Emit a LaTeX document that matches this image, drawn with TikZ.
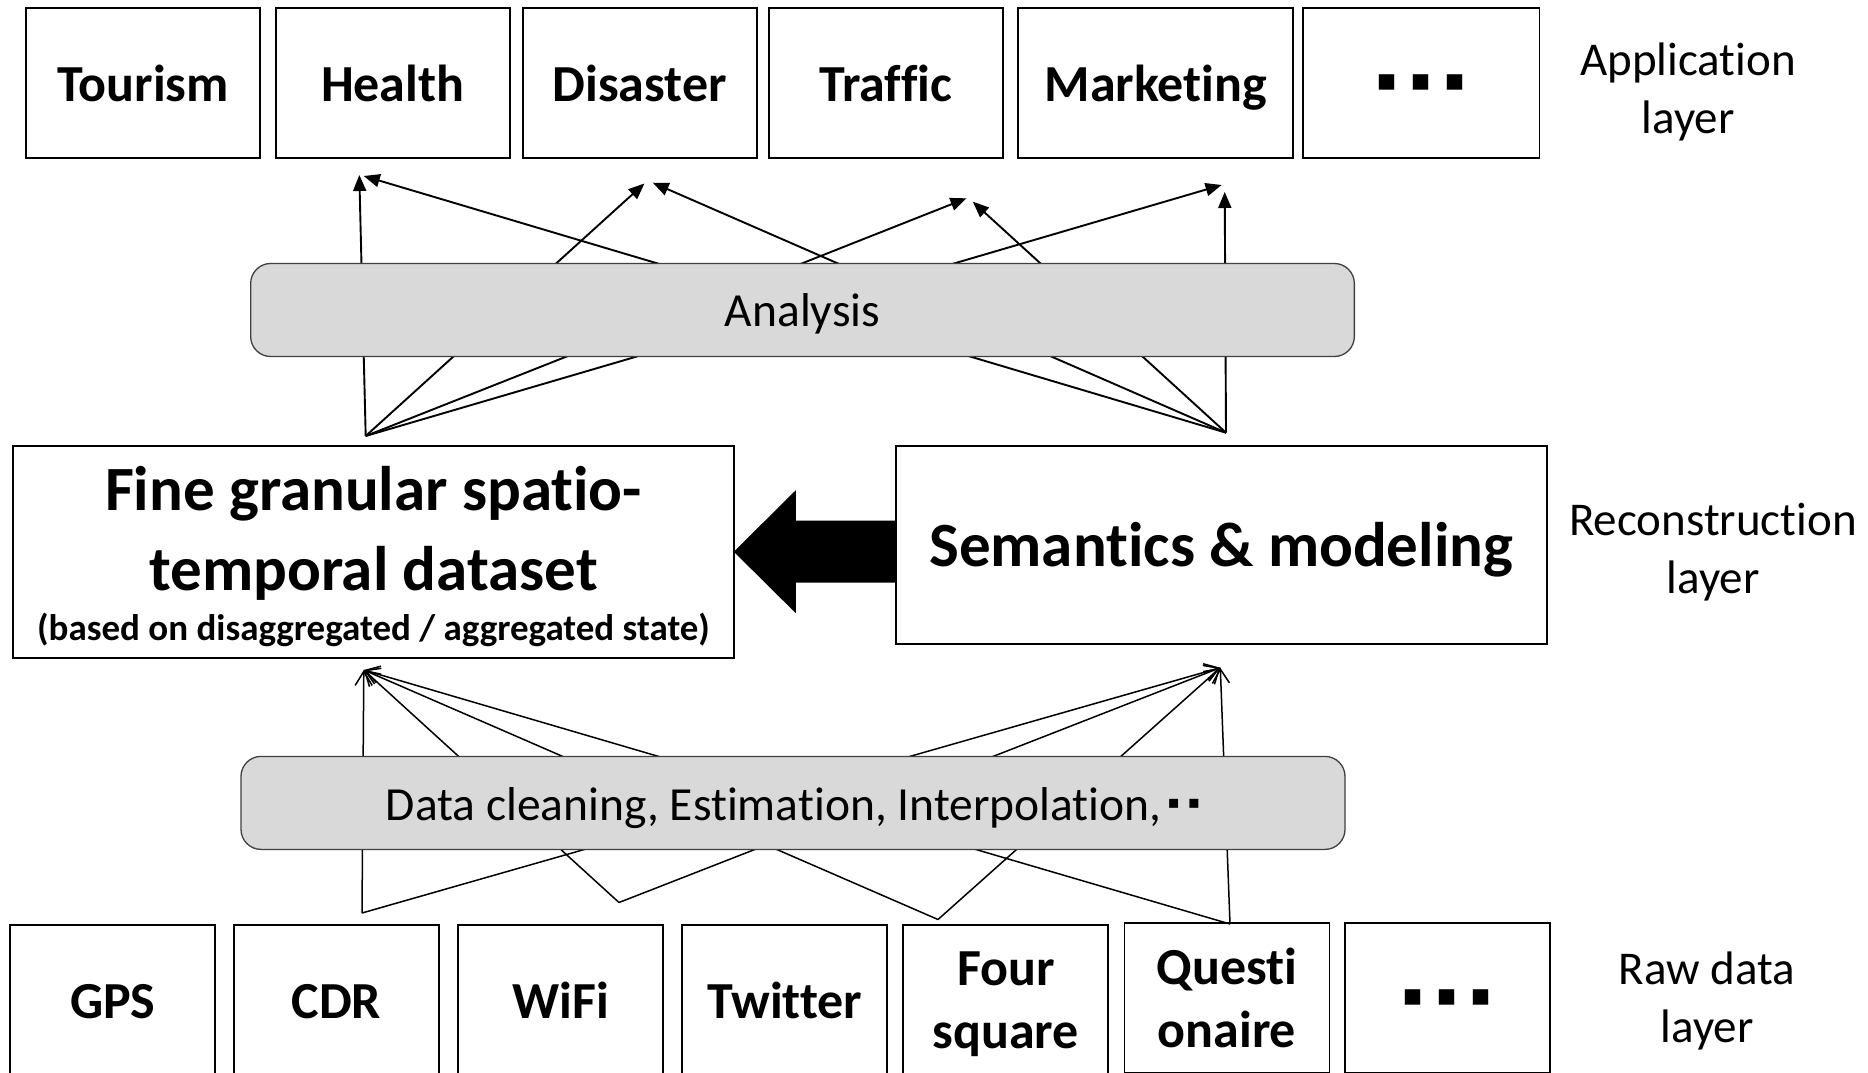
\documentclass[tikz,border=0pt]{standalone}
\usepackage{fontspec}
\setmainfont{Carlito}[Ligatures={NoCommon,NoContextual}]
\newfontfamily\symfont{DejaVu Sans}
\usetikzlibrary{arrows.meta,calc}

\begin{document}
\begin{tikzpicture}[x=1pt,y=-1pt,
  every node/.style={inner sep=0pt, outer sep=0pt},
  boxbase/.style={draw, line width=1.8pt, minimum height=150pt,
    font=\fontsize{52}{63}\selectfont\bfseries},
  appbox/.style={boxbase, minimum width=#1, text height=36pt, text depth=0pt},
  dotbox/.style={boxbase, minimum width=#1},
  rawbox/.style={boxbase, minimum width=205pt, text height=36pt, text depth=0pt},
  rawtwo/.style={boxbase, minimum width=205pt, align=center},
  databox/.style={draw, line width=1.8pt},
  bigtext/.style={anchor=base, font=\fontsize{63}{76}\selectfont\bfseries},
  procbar/.style={draw=black!75, line width=1.3pt, fill=black!15,
    rounded corners=20pt, minimum width=#1, minimum height=93pt,
    font=\fontsize{47.5}{56}\selectfont},
  layerlabel/.style={align=center, font=\fontsize{47}{58}\selectfont},
  upfilled/.style={line width=1.9pt, -{Triangle[length=16pt,width=13pt]}},
  upopen/.style={line width=1.5pt, -{Straight Barb[length=14pt,width=17pt]}}
]
\fill[white] (0,0) rectangle (1868,1073);
\useasboundingbox (0,0) rectangle (1868,1073);

% application layer
\node[appbox=234pt] (tourism)   at (143.2,83)  {Tourism};
\node[appbox=234pt] (health)    at (392.7,83)  {Health};
\node[appbox=234pt] (disaster)  at (639.7,83)  {Disaster};
\node[appbox=234pt] (traffic)   at (885.7,83)  {Traffic};
\node[appbox=275pt] (marketing) at (1155.8,83) {Marketing};
\node[dotbox=236.6pt] (appmore) at (1421.2,83)
  {\symfont\fontsize{31}{31}\selectfont ▪\hspace{13pt}▪\hspace{13pt}▪};
\node[layerlabel] (applayer) at (1688,92) {Application\\layer};

% reconstruction layer
\node[databox, minimum width=720.6pt, minimum height=212pt] (fine) at (373.5,551.7) {};
\node[bigtext] (fineA) at (373.5,510) {Fine granular spatio-};
\node[bigtext] (fineB) at (373.5,590) {temporal dataset};
\node[anchor=base, font=\fontsize{37}{44}\selectfont\bfseries] (fineC) at (373.5,640)
  {(based on disaggregated / aggregated state)};
\node[databox, minimum width=650.9pt, minimum height=198.6pt] (sem) at (1221.25,545) {};
\node[bigtext] (semtext) at (1221.25,566.7) {Semantics \& modeling};
\node[layerlabel] (reclayer) at (1713,552) {Reconstruction\\layer};

% thick arrow from the model to the dataset
\coordinate (tail) at (sem.west |- fine.east);
\fill (fine.east) -- ++(62,-61.5) -- ++(0,30.5) -- ($(tail)+(0,-31)$)
  -- ($(tail)+(0,31)$) -- ($(fine.east)+(62,31)$) -- ($(fine.east)+(62,61.5)$) -- cycle;

% raw data layer
\node[rawbox] (gps)     at (112.7,1000.2)  {GPS};
\node[rawbox] (cdr)     at (336.3,1000.2)  {CDR};
\node[rawbox] (wifi)    at (560.5,1000.2)  {WiFi};
\node[rawbox] (twitter) at (784.8,1000.2)  {Twitter};
\node[rawtwo] (four)    at (1005.8,1000.2) {Four\\\raisebox{0pt}[\height][0pt]{square}};
\node[rawtwo] (quest)   at (1226.9,997.8)  {Questi\\onaire};
\node[dotbox=205pt] (rawmore) at (1447.4,997.8)
  {\symfont\fontsize{31}{31}\selectfont ▪\hspace{13pt}▪\hspace{13pt}▪};
\node[layerlabel] (rawlayer) at (1707,1001) {Raw data\\layer};

% connector end points
\coordinate (fa) at (365.7,436);
\coordinate (sa) at (1226,432.7);
\coordinate (hF) at (359.3,175);   \coordinate (hS) at (363.8,176);
\coordinate (dF) at (644.4,183.5); \coordinate (dS) at (652.7,182.7);
\coordinate (tF) at (966.5,198.3); \coordinate (tS) at (972.8,201.7);
\coordinate (mF) at (1221.6,185);  \coordinate (mS) at (1224.7,192);
\coordinate (T1) at (363.8,670);
\coordinate (T2) at (1220.3,667.7);
\coordinate (src1) at (362,913);
\coordinate (src2) at (619,902.5);
\coordinate (src3) at (938,919.5);
\coordinate (src4) at (1230,924);

% analysis arrows
\foreach \t in {hF,dF,tF,mF} \draw[upfilled] (fa) -- (\t);
\foreach \t in {hS,dS,tS,mS} \draw[upfilled] (sa) -- (\t);

% reconstruction arrows
\foreach \s in {src1,src2,src3,src4} {
  \draw[upopen] (\s) -- (T1);
  \draw[upopen] (\s) -- (T2);
}

% processing bars drawn over the arrows
\node[procbar=1103.7pt, text height=34pt, text depth=2pt] (analysis) at (802.5,310) {Analysis};
\node[procbar=1104pt, text height=37pt, text depth=2pt] (cleaning) at (793,802.9)
  {Data cleaning, Estimation, Interpolation,\raisebox{12pt}{\symfont\fontsize{18}{18}\selectfont\hspace{6pt}▪\hspace{8pt}▪}};
\end{tikzpicture}
\end{document}
